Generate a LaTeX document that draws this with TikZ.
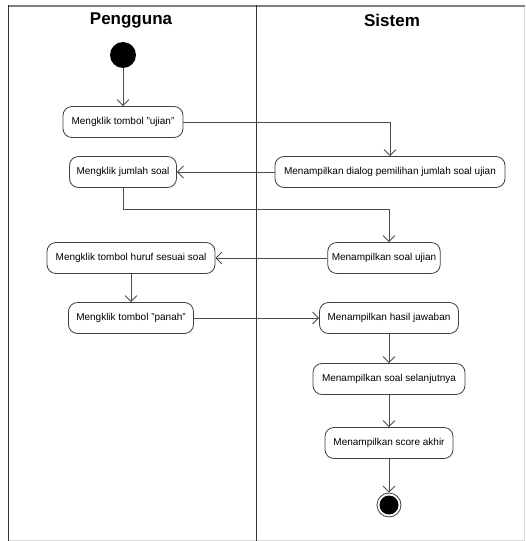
\documentclass[tikz,border=0pt]{standalone}
\usepackage{fontspec}
\setmainfont{Liberation Sans}
\usetikzlibrary{arrows.meta}
\newcommand{\dq}{\symbol{34}}
\begin{document}
\begin{tikzpicture}[x=1pt,y=-1pt,
  act/.style={draw=black!75, line width=0.8pt, rounded corners=9pt,
    minimum height=31pt, inner xsep=4pt, fill=white,
    font=\fontsize{10}{12}\selectfont},
  flow/.style={draw=black!70, line width=0.8pt,
    -{Straight Barb[length=6pt,width=12pt,line width=0.8pt]}},
  lanetitle/.style={font=\fontsize{17}{20}\selectfont\bfseries},
  initial/.style={circle, fill=black, minimum size=26pt, inner sep=0pt},
  final/.style={circle, draw=black!75, line width=0.8pt, fill=white,
    minimum size=24pt, inner sep=0pt}]
\useasboundingbox (0,0) rectangle (526,541);

% swimlane frame
\draw[black!15, line width=0.8pt] (524,6) -- (524,540) -- (9,540);
\draw[black!50, line width=2pt] (8,5.5) -- (525,5.5);
\draw[black!80, line width=1.8pt] (8.5,5) -- (8.5,541);
\draw[black!80, line width=1.8pt] (256.5,5) -- (256.5,541);

\node[lanetitle] (laneA) at (131,20) {Pengguna};
\node[lanetitle] (laneB) at (392,20) {Sistem};

% activities
\node[initial] (start) at (123,55) {};
\node[act, minimum width=120pt] (n1) at (123,122) {Mengklik tombol \dq ujian\dq};
\node[act, minimum width=230pt] (n2) at (390,172) {Menampilkan dialog pemilihan jumlah soal ujian};
\node[act, minimum width=107pt] (n3) at (123,172) {Mengklik jumlah soal};
\node[act, minimum width=110pt] (n4) at (384,258) {Menampilkan soal ujian};
\node[act, minimum width=168pt] (n5) at (131,258) {Mengklik tombol huruf sesuai soal};
\node[act, minimum width=125pt] (n6) at (131,318) {Mengklik tombol \dq panah\dq};
\node[act, minimum width=139pt] (n7) at (389,318) {Menampilkan hasil jawaban};
\node[act, minimum width=152pt] (n8) at (389,379) {Menampilkan soal selanjutnya};
\node[act, minimum width=128pt] (n9) at (389,443) {Menampilkan score akhir};
\node[final] (stop) at (389,505) {};
\fill[black] (stop) circle (9.5pt);

% control flow
\coordinate (b1) at (389,209);
\draw[flow] (start) -- (n1);
\draw[flow] (n1.east) -| (n2.north);
\draw[flow] (n2) -- (n3);
\draw[flow] (n3.south) |- (b1) -- (b1 |- n4.north);
\draw[flow] (n4) -- (n5);
\draw[flow] (n5.south) -- (n6.north);
\draw[flow] (n6) -- (n7);
\draw[flow] (n7) -- (n8);
\draw[flow] (n8) -- (n9);
\draw[flow] (n9) -- (stop);
\end{tikzpicture}
\end{document}
